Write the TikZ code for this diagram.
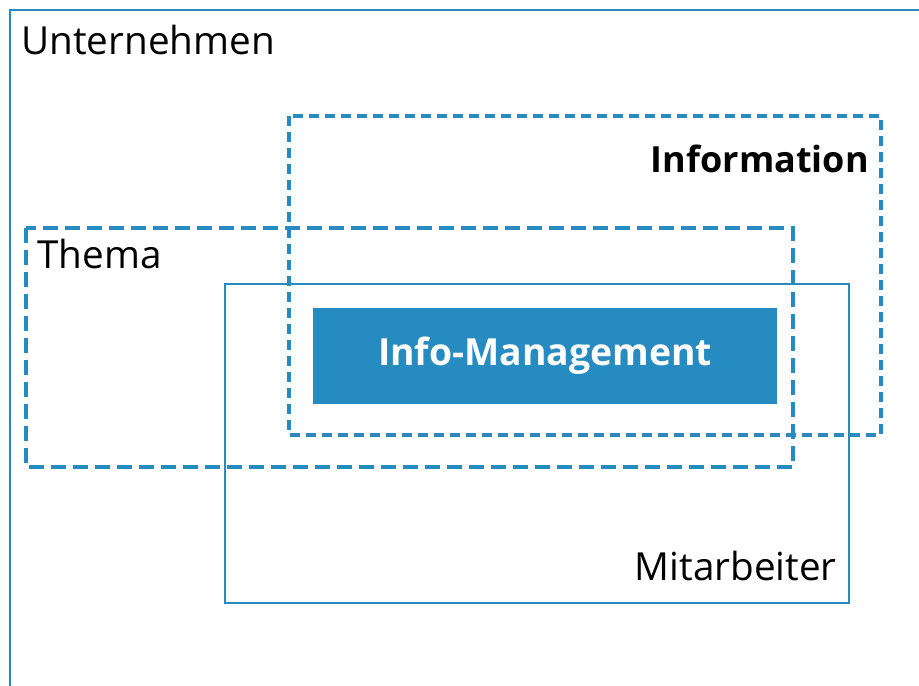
\documentclass[tikz,border=0pt]{standalone}
\usepackage{fontspec}
\setmainfont{Open Sans}
\definecolor{ibmblue}{HTML}{268BC0}
\tikzset{
  solidbox/.style={draw=ibmblue, line width=1.6pt},
  infobox/.style={draw=ibmblue, line width=2.5pt, dash pattern=on 7.5pt off 4.5pt},
  themabox/.style={draw=ibmblue, line width=2.8pt, dash pattern=on 11pt off 5.5pt},
  label/.style={font=\fontsize{29}{32}\selectfont, inner sep=0pt}
}

\begin{document}
\begin{tikzpicture}[x=0.75pt, y=-0.75pt]
    \useasboundingbox (0,0) rectangle (919,685);
    \begin{scope}
    \clip (0,0) rectangle (919,685);
    \draw[solidbox] (10,10) rectangle (940,700);
    \end{scope}
    \node[label, anchor=base west] (unternehmen) at (21,55) {Unternehmen};

    \draw[infobox] (289,116) rectangle (881,435);
    \node[label, font=\fontsize{27}{30}\selectfont\bfseries, anchor=base east] (information) at (869,172) {Information};

    \draw[themabox] (26,228) rectangle (793,467);
    \node[label, anchor=base west] (thema) at (37,268) {Thema};

    \draw[solidbox, line width=1.3pt] (225,284) rectangle (849,603);
    \node[label, anchor=base east] (mitarbeiter) at (837,580) {Mitarbeiter};

    \node[fill=ibmblue, minimum width=348pt, minimum height=72pt, inner sep=0pt,
          text=white, font=\fontsize{28}{30}\selectfont\bfseries] (infomgmt) at (545,356) {Info-Management};
\end{tikzpicture}
\end{document}
